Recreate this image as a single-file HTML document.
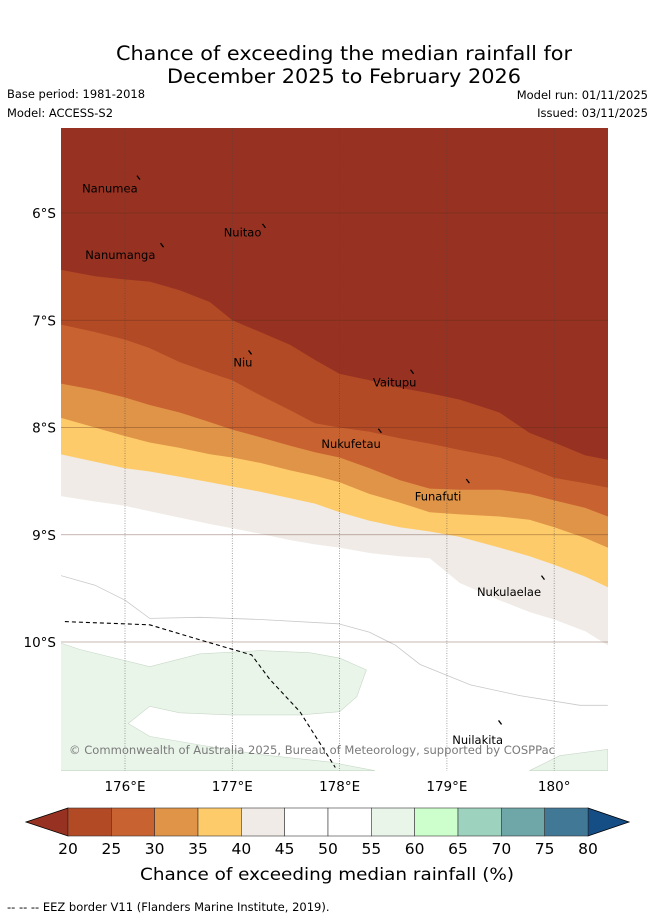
<!DOCTYPE html>
<html><head><meta charset="utf-8"><style>
body{margin:0;background:#fff;width:655px;height:919px;overflow:hidden;font-family:"DejaVu Sans",sans-serif}
svg text{font-family:"DejaVu Sans","Liberation Sans",sans-serif}
</style></head><body>
<svg id="chart" width="655" height="919" xmlns="http://www.w3.org/2000/svg">
<text x="344" y="60" font-size="19.5" text-anchor="middle" textLength="456" lengthAdjust="spacingAndGlyphs">Chance of exceeding the median rainfall for</text>
<text x="344" y="83" font-size="19.5" text-anchor="middle" textLength="354" lengthAdjust="spacingAndGlyphs">December 2025 to February 2026</text>
<text x="7" y="98" font-size="11.5" textLength="138" lengthAdjust="spacingAndGlyphs">Base period: 1981-2018</text>
<text x="7" y="117" font-size="11.5" textLength="106" lengthAdjust="spacingAndGlyphs">Model: ACCESS-S2</text>
<text x="648" y="99" font-size="11.5" text-anchor="end">Model run: 01/11/2025</text>
<text x="648" y="117" font-size="11.5" text-anchor="end">Issued: 03/11/2025</text>
<defs><clipPath id="mapclip"><rect x="61" y="128" width="547" height="643"/></clipPath></defs>
<g id="map" clip-path="url(#mapclip)"></g>
<g id="axes"></g>
<g id="cbar"></g>
<text x="327" y="880" font-size="17" text-anchor="middle" textLength="374" lengthAdjust="spacingAndGlyphs">Chance of exceeding median rainfall (%)</text>
<text x="7" y="911" font-size="11.5">--  --  -- EEZ border V11 (Flanders Marine Institute, 2019).</text>
</svg>
<script>
const lonGrid=[175.4,175.72,176,176.23,176.51,176.79,177,177.26,177.54,177.77,178,178.28,178.56,178.84,179.12,179.49,179.77,180,180.29,180.5];
const bA=[6.53,6.59,6.62,6.64,6.72,6.83,7.0,7.11,7.23,7.37,7.50,7.56,7.63,7.68,7.74,7.86,8.05,8.14,8.26,8.30];
const bB=[7.04,7.11,7.18,7.26,7.39,7.49,7.56,7.70,7.84,7.96,8.0,8.04,8.10,8.15,8.21,8.28,8.38,8.47,8.52,8.56];
const bC=[7.59,7.65,7.72,7.79,7.86,7.95,8.02,8.09,8.17,8.23,8.28,8.38,8.49,8.57,8.58,8.58,8.62,8.68,8.75,8.83];
const bD=[7.91,8.0,8.08,8.14,8.19,8.25,8.28,8.33,8.40,8.45,8.51,8.62,8.70,8.79,8.81,8.83,8.86,8.93,9.03,9.12];
const bE=[8.25,8.32,8.38,8.41,8.46,8.51,8.55,8.60,8.66,8.71,8.79,8.87,8.93,8.97,9.02,9.12,9.20,9.28,9.39,9.49];
const bF=[8.64,8.69,8.73,8.78,8.84,8.90,8.94,8.99,9.05,9.09,9.12,9.17,9.20,9.22,9.45,9.61,9.72,9.79,9.90,10.03];
const bandColors=['#973222','#b24a25','#c96231','#e09448','#fecb6a','#f0ebe6'];
const greyLon=[175.4,175.72,176,176.23,176.7,177.26,177.99,178.28,178.52,178.75,179.22,179.68,180.24,180.5];
const greyLat=[9.38,9.47,9.61,9.78,9.77,9.79,9.83,9.91,10.03,10.21,10.40,10.50,10.59,10.59];
const greenLon=[175.4,175.58,176.23,176.7,177.26,177.72,178.0,178.25,178.16,178.0,177.63,176.98,176.51,176.23,176.03,176.23,176.7,177.26,177.91,178.33,175.4];
const greenLat=[10.01,10.07,10.23,10.11,10.08,10.10,10.15,10.26,10.51,10.65,10.68,10.68,10.66,10.6,10.76,10.88,10.96,11.05,11.12,11.2,11.2];
const green2Lon=[179.77,180.05,180.5,180.5];
const green2Lat=[11.2,11.06,11.0,11.2];
const eezLon=[175.44,176.23,176.7,177.18,177.35,177.63,177.96];
const eezLat=[9.81,9.84,9.98,10.12,10.35,10.65,11.17];
const islandNames=['Nanumea','Nuitao','Nanumanga','Niu','Vaitupu','Nukufetau','Funafuti','Nukulaelae','Nuilakita'];
const islandLon=[176.13,177.3,176.35,177.17,178.68,178.38,179.2,179.9,179.5];
const islandLat=[5.67,6.12,6.3,7.3,7.48,8.03,8.5,9.4,10.75];
const labelLon=[175.6,176.92,175.63,177.01,178.31,177.83,178.7,179.28,179.05];
const labelLat=[5.81,6.22,6.43,7.43,7.62,8.19,8.68,9.57,10.95];
const lonTicks=[176,177,178,179,180];
const lonTickLabels=['176°E','177°E','178°E','179°E','180°'];
const latTicks=[6,7,8,9,10];
const latTickLabels=['6°S','7°S','8°S','9°S','10°S'];
const cbLevels=[20,25,30,35,40,45,50,55,60,65,70,75,80];
const cbColors=['#b24a25','#c96231','#e09448','#fecb6a','#f0ebe6','#ffffff','#ffffff','#eaf5ea','#ccffcc','#9dd3be','#6fa7a8','#417896'];
const cbUnder='#973222', cbOver='#154d85';

const NS='http://www.w3.org/2000/svg';
const X=lon=>125+(lon-176)*107.3;
const Y=lat=>213+(lat-6)*107.25;
const CB=v=>68+(v-20)/60*520;
function mk(parent,tag,attrs){const e=document.createElementNS(NS,tag);for(const k in attrs)e.setAttribute(k,attrs[k]);parent.appendChild(e);return e;}
const map=document.getElementById('map'),axes=document.getElementById('axes'),cbar=document.getElementById('cbar');
function line(lons,lats){return lons.map((l,i)=>X(l).toFixed(1)+','+Y(lats[i]).toFixed(1));}

let bg=mk(map,'rect',{x:61,y:128,width:547,height:643,fill:'#ffffff'});


const bounds=[null,bA,bB,bC,bD,bE,bF];
const names=['band-20-25','band-25-30','band-30-35','band-35-40','band-40-45','band-45-50'];
for(let i=5;i>=0;i--){
  const lower=bounds[i+1];
  const pts=line(lonGrid,lower);
  pts.push('620,'+Y(lower[lower.length-1]).toFixed(1),'620,120','50,120','50,'+Y(lower[0]).toFixed(1));
  const p=mk(map,'polygon',{points:pts.join(' '),fill:bandColors[i]});
  
  
}
let gl=mk(map,'polyline',{points:line(greyLon,greyLat).join(' '),fill:'none',stroke:'#c8c8c8','stroke-width':0.8});


let g1=mk(map,'polygon',{points:line(greenLon,greenLat).join(' '),fill:'#eaf5ea',stroke:'#c8d8c8','stroke-width':0.6});


let g2=mk(map,'polygon',{points:line(green2Lon,green2Lat).join(' '),fill:'#eaf5ea',stroke:'#c8d8c8','stroke-width':0.6});


lonTicks.forEach((l,i)=>{
  const g=mk(map,'line',{x1:X(l),x2:X(l),y1:128,y2:771,stroke:'#444','stroke-width':0.8,'stroke-dasharray':'1,1.5',opacity:0.6});
  
  
  const t=mk(axes,'text',{x:X(l),y:791,'font-size':13.5,'text-anchor':'middle'});t.textContent=lonTickLabels[i];
  
  
});
latTicks.forEach((l,i)=>{
  const g=mk(map,'line',{x1:61,x2:608,y1:Y(l),y2:Y(l),stroke:'#5a2a1a','stroke-width':0.8,opacity:0.45});
  
  
  const t=mk(axes,'text',{x:56,y:Y(l)+5,'font-size':13.5,'text-anchor':'end'});t.textContent=latTickLabels[i];
  
  
});
let ez=mk(map,'polyline',{points:line(eezLon,eezLat).join(' '),fill:'none',stroke:'#000','stroke-width':1.1,'stroke-dasharray':'4,3'});


islandNames.forEach((n,i)=>{
  const m=mk(map,'line',{x1:X(islandLon[i])-2,y1:Y(islandLat[i])-2,x2:X(islandLon[i])+1,y2:Y(islandLat[i])+2,stroke:'#000','stroke-width':1.3});
  
  
  const t=mk(map,'text',{x:X(labelLon[i]),y:Y(labelLat[i]),'font-size':11.5});t.textContent=n;
  
  
});
let cr=mk(map,'text',{x:69,y:754,'font-size':11.5,fill:'#7a7a7a',textLength:486,lengthAdjust:'spacingAndGlyphs'});cr.textContent='© Commonwealth of Australia 2025, Bureau of Meteorology, supported by COSPPac';


let tu=mk(cbar,'polygon',{points:'68,808 26,822 68,836',fill:cbUnder,stroke:'#000','stroke-width':0.8});


let to=mk(cbar,'polygon',{points:'588,808 629,822 588,836',fill:cbOver,stroke:'#000','stroke-width':0.8});


cbColors.forEach((c,i)=>{
  const r=mk(cbar,'rect',{x:CB(cbLevels[i]),y:808,width:CB(cbLevels[i+1])-CB(cbLevels[i]),height:28,fill:c,stroke:'#333','stroke-width':0.6});
  
  
});
cbLevels.forEach(v=>{
  const t=mk(cbar,'text',{x:CB(v),y:854,'font-size':15.5,'text-anchor':'middle'});t.textContent=v;
  
  
});
</script>
</body></html>
